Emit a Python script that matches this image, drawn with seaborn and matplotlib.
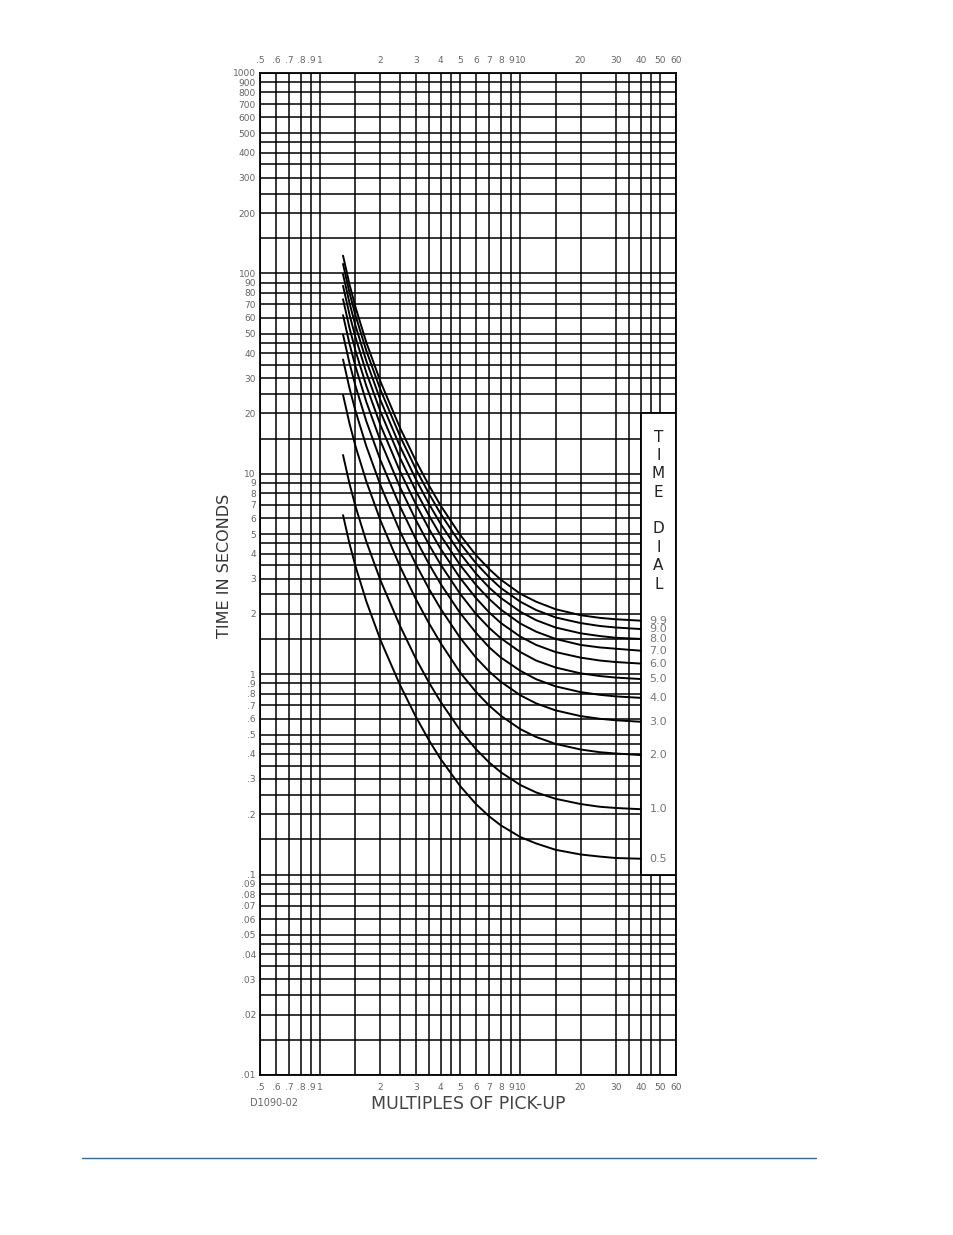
import matplotlib
matplotlib.use("Agg")
import pandas as pd
import seaborn as sns
import matplotlib.pyplot as plt
from matplotlib.patches import Rectangle
from matplotlib.lines import Line2D
from matplotlib.ticker import FixedLocator, FixedFormatter, NullFormatter

## data

# multiples of pick-up where each curve was read
multiples = [1.3, 1.4, 1.5, 1.7, 2, 2.5, 3, 3.5, 4, 5, 6, 7, 8, 10, 12, 15, 20, 25, 30, 40]

# time in seconds for each time dial setting
td_9_9 = [122.6, 88.29, 67.94, 45.22, 28.87, 17.03, 11.66, 8.73, 6.94, 4.96, 3.93, 3.34, 2.96, 2.52, 2.30, 2.11, 1.97, 1.91, 1.88, 1.85]
td_9_0 = [111.5, 80.26, 61.77, 41.11, 26.25, 15.48, 10.60, 7.94, 6.31, 4.51, 3.58, 3.04, 2.69, 2.30, 2.09, 1.92, 1.80, 1.74, 1.71, 1.68]
td_8_0 = [99.08, 71.35, 54.91, 36.55, 23.33, 13.76, 9.43, 7.06, 5.62, 4.01, 3.18, 2.70, 2.40, 2.05, 1.86, 1.71, 1.60, 1.55, 1.52, 1.50]
td_7_0 = [86.70, 62.43, 48.05, 31.98, 20.42, 12.05, 8.25, 6.18, 4.92, 3.51, 2.79, 2.37, 2.10, 1.79, 1.63, 1.50, 1.40, 1.36, 1.34, 1.31]
td_6_0 = [74.31, 53.52, 41.19, 27.42, 17.51, 10.33, 7.08, 5.30, 4.22, 3.02, 2.40, 2.03, 1.80, 1.54, 1.40, 1.29, 1.21, 1.17, 1.15, 1.13]
td_5_0 = [61.93, 44.60, 34.33, 22.85, 14.59, 8.61, 5.90, 4.42, 3.52, 2.52, 2.00, 1.70, 1.51, 1.29, 1.17, 1.08, 1.01, 0.979, 0.962, 0.946]
td_4_0 = [49.55, 35.69, 27.47, 18.29, 11.68, 6.90, 4.73, 3.54, 2.82, 2.02, 1.61, 1.36, 1.21, 1.04, 0.944, 0.870, 0.814, 0.789, 0.775, 0.762]
td_3_0 = [37.17, 26.77, 20.61, 13.72, 8.77, 5.18, 3.55, 2.66, 2.12, 1.52, 1.21, 1.03, 0.916, 0.785, 0.715, 0.660, 0.618, 0.599, 0.589, 0.579]
td_2_0 = [24.79, 17.86, 13.75, 9.16, 5.85, 3.46, 2.38, 1.79, 1.43, 1.02, 0.817, 0.696, 0.620, 0.532, 0.486, 0.449, 0.421, 0.408, 0.402, 0.395]
td_1_0 = [12.41, 8.94, 6.89, 4.59, 2.94, 1.75, 1.20, 0.907, 0.727, 0.526, 0.423, 0.362, 0.324, 0.280, 0.257, 0.239, 0.225, 0.218, 0.215, 0.212]
td_0_5 = [6.22, 4.49, 3.46, 2.31, 1.48, 0.887, 0.615, 0.467, 0.377, 0.277, 0.225, 0.195, 0.176, 0.154, 0.143, 0.133, 0.126, 0.123, 0.121, 0.120]

dial_labels = ["9.9", "9.0", "8.0", "7.0", "6.0", "5.0", "4.0", "3.0", "2.0", "1.0", "0.5"]
dial_curves = [td_9_9, td_9_0, td_8_0, td_7_0, td_6_0, td_5_0, td_4_0, td_3_0, td_2_0, td_1_0, td_0_5]

# axis ticks (labelled) and extra grid lines (unlabelled)
x_ticks = [0.5, 0.6, 0.7, 0.8, 0.9, 1, 2, 3, 4, 5, 6, 7, 8, 9, 10, 20, 30, 40, 50, 60]
x_tick_labels = [".5", ".6", ".7", ".8", ".9", "1", "2", "3", "4", "5", "6", "7", "8", "9", "10",
                 "20", "30", "40", "50", "60"]
x_extra_grid = [1.5, 2.5, 3.5, 4.5, 15, 35, 45]

y_ticks = [0.01, 0.02, 0.03, 0.04, 0.05, 0.06, 0.07, 0.08, 0.09,
           0.1, 0.2, 0.3, 0.4, 0.5, 0.6, 0.7, 0.8, 0.9,
           1, 2, 3, 4, 5, 6, 7, 8, 9,
           10, 20, 30, 40, 50, 60, 70, 80, 90,
           100, 200, 300, 400, 500, 600, 700, 800, 900, 1000]
y_tick_labels = [".01", ".02", ".03", ".04", ".05", ".06", ".07", ".08", ".09",
                 ".1", ".2", ".3", ".4", ".5", ".6", ".7", ".8", ".9",
                 "1", "2", "3", "4", "5", "6", "7", "8", "9",
                 "10", "20", "30", "40", "50", "60", "70", "80", "90",
                 "100", "200", "300", "400", "500", "600", "700", "800", "900", "1000"]
y_extra_grid = [0.015, 0.025, 0.035, 0.045, 0.15, 0.25, 0.35, 0.45,
                1.5, 2.5, 3.5, 4.5, 15, 25, 35, 45, 150, 250, 350, 450]

# long table for seaborn
rows = []
for label, curve in zip(dial_labels, dial_curves):
    for m, t in zip(multiples, curve):
        rows.append({"dial": label, "multiple": m, "seconds": t})
df = pd.DataFrame(rows)

## plot

sns.set_style("white")
plt.rcParams['font.family'] = ['DejaVu Sans']

fig = plt.figure(figsize=(9.54, 12.35), dpi=100)
ax = fig.add_axes([260 / 954, 1 - 1075 / 1235, 416 / 954, 1002 / 1235])

sns.lineplot(data=df, x="multiple", y="seconds", hue="dial", palette=["black"] * len(dial_labels),
             legend=False, sort=False, linewidth=1.4, ax=ax, zorder=3)

ax.set_xscale("log")
ax.set_yscale("log")
ax.set_xlim(0.5, 60)
ax.set_ylim(0.01, 1000)
ax.set_xlabel("")
ax.set_ylabel("")

ax.xaxis.set_major_locator(FixedLocator(x_ticks))
ax.xaxis.set_major_formatter(FixedFormatter(x_tick_labels))
ax.xaxis.set_minor_locator(FixedLocator(x_extra_grid))
ax.xaxis.set_minor_formatter(NullFormatter())
ax.yaxis.set_major_locator(FixedLocator(y_ticks))
ax.yaxis.set_major_formatter(FixedFormatter(y_tick_labels))
ax.yaxis.set_minor_locator(FixedLocator(y_extra_grid))
ax.yaxis.set_minor_formatter(NullFormatter())

ax.tick_params(axis="x", which="both", length=0, top=True, labeltop=True, labelsize=6.5,
               colors="#666666", pad=6)
ax.tick_params(axis="y", which="both", length=0, labelsize=6.5, colors="#666666", pad=3)

ax.set_axisbelow(True)
ax.grid(True, which="both", color="black", linewidth=1.1)
for s in ax.spines.values():
    s.set_color("black")
    s.set_linewidth(1.3)

# time dial legend box
ax.add_patch(Rectangle((40, 0.1), 20, 19.9, facecolor="white", edgecolor="black",
                       linewidth=1.3, zorder=2))
ax.text(49, 16.6, "T\nI\nM\nE\n\nD\nI\nA\nL", ha="center", va="top", fontsize=11,
        linespacing=1.28, color="#222222", zorder=4)
for label, curve in zip(dial_labels, dial_curves):
    ax.text(49, curve[-1], label, ha="center", va="center", fontsize=8, color="#777777", zorder=4)

# labels outside the grid
fig.text(225 / 954, 1 - 566 / 1235, "TIME IN SECONDS", rotation=90, ha="center", va="center",
         fontsize=11.5, color="#333333")
fig.text(468 / 954, 1 - 1104 / 1235, "MULTIPLES OF PICK-UP", ha="center", va="center",
         fontsize=12.5, color="#444444")
fig.text(250 / 954, 1 - 1103 / 1235, "D1090-02", ha="left", va="center", fontsize=7,
         color="#666666")

# blue rule at page bottom
fig.add_artist(Line2D([82 / 954, 816 / 954], [1 - 1158 / 1235, 1 - 1158 / 1235],
                      transform=fig.transFigure, color="#1f6fb5", linewidth=1.0))

fig.savefig("out.png", dpi=100)
